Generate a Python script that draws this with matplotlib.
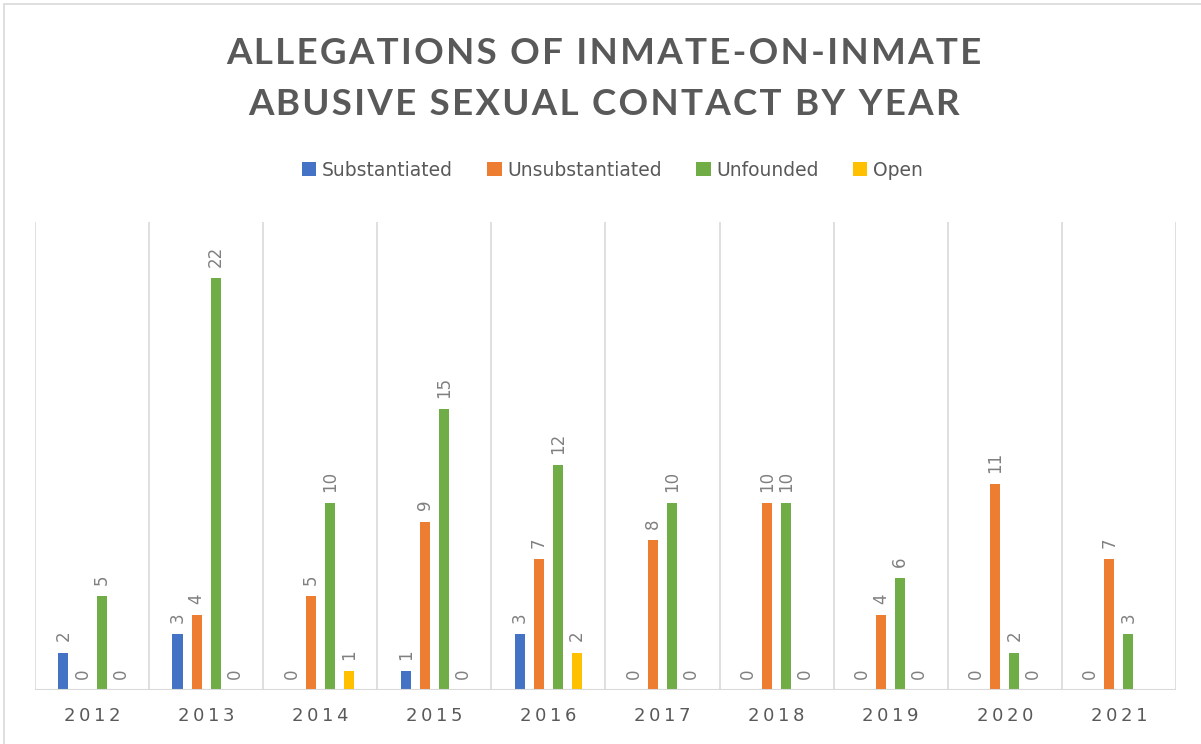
import matplotlib.pyplot as plt
import numpy as np
from matplotlib.patches import Rectangle

years = ["2012", "2013", "2014", "2015", "2016", "2017", "2018", "2019", "2020", "2021"]
substantiated = [2, 3, 0, 1, 3, 0, 0, 0, 0, 0]
unsubstantiated = [0, 4, 5, 9, 7, 8, 10, 4, 11, 7]
unfounded = [5, 22, 10, 15, 12, 10, 10, 6, 2, 3]
open_cases = [0, 0, 1, 0, 2, 0, 0, 0, 0, None]

title_lines = ["ALLEGATIONS OF INMATE-ON-INMATE", "ABUSIVE SEXUAL CONTACT BY YEAR"]

series = [("Substantiated", substantiated, "#4472C4"),
          ("Unsubstantiated", unsubstantiated, "#ED7D31"),
          ("Unfounded", unfounded, "#70AD47"),
          ("Open", open_cases, "#FFC000")]

fig = plt.figure(figsize=(12.01, 7.44), dpi=100)
ax = fig.add_axes([0.0291, 0.0726, 0.95, 0.629])

# chart border
fig.patches.append(Rectangle((0.0033, -0.1), 1.2, 1.0946, transform=fig.transFigure,
                             fill=False, edgecolor="#d9d9d9", linewidth=1.2))

x = np.arange(len(years))
pitch = 0.167
width = 0.088
for i, (name, vals, col) in enumerate(series):
    pos = x + (i - 1.5) * pitch
    h = [v if v is not None else 0 for v in vals]
    ax.bar(pos, h, width=width, color=col, label=name)
    for p, v in zip(pos, vals):
        if v is None:
            continue
        ax.annotate(str(v), (p, v), xytext=(0, 8), textcoords="offset points",
                    rotation=90, ha="center", va="bottom", fontsize=12, color="#808080")

ax.set_xlim(-0.5, len(years) - 0.5)
ax.set_ylim(0, 25)
for b in np.arange(-0.5, len(years)):
    ax.axvline(b, color="#d9d9d9", linewidth=1.2, zorder=0)
for s in ax.spines.values():
    s.set_visible(False)
ax.axhline(0, color="#d9d9d9", linewidth=1.5, zorder=3)
ax.set_yticks([])
ax.set_xticks(x)
ax.set_xticklabels(["\u2009".join(y) for y in years], fontsize=13, color="#595959")
ax.tick_params(axis="x", length=0, pad=12)

# letter-spaced title
spaced = "\n".join("\u200a".join(line) for line in title_lines)
fig.text(0.503, 0.894, spaced, ha="center", va="center", fontsize=26.5,
         fontweight="bold", color="#595959", family=["Lato", "DejaVu Sans"],
         linespacing=1.68)

fig.legend(loc="center", bbox_to_anchor=(0.51, 0.771), ncol=4, frameon=False,
           fontsize=13.5, handlelength=0.75, handleheight=0.75, handletextpad=0.3,
           columnspacing=1.85, labelcolor="#595959")

fig.savefig("out.png", dpi=100)
